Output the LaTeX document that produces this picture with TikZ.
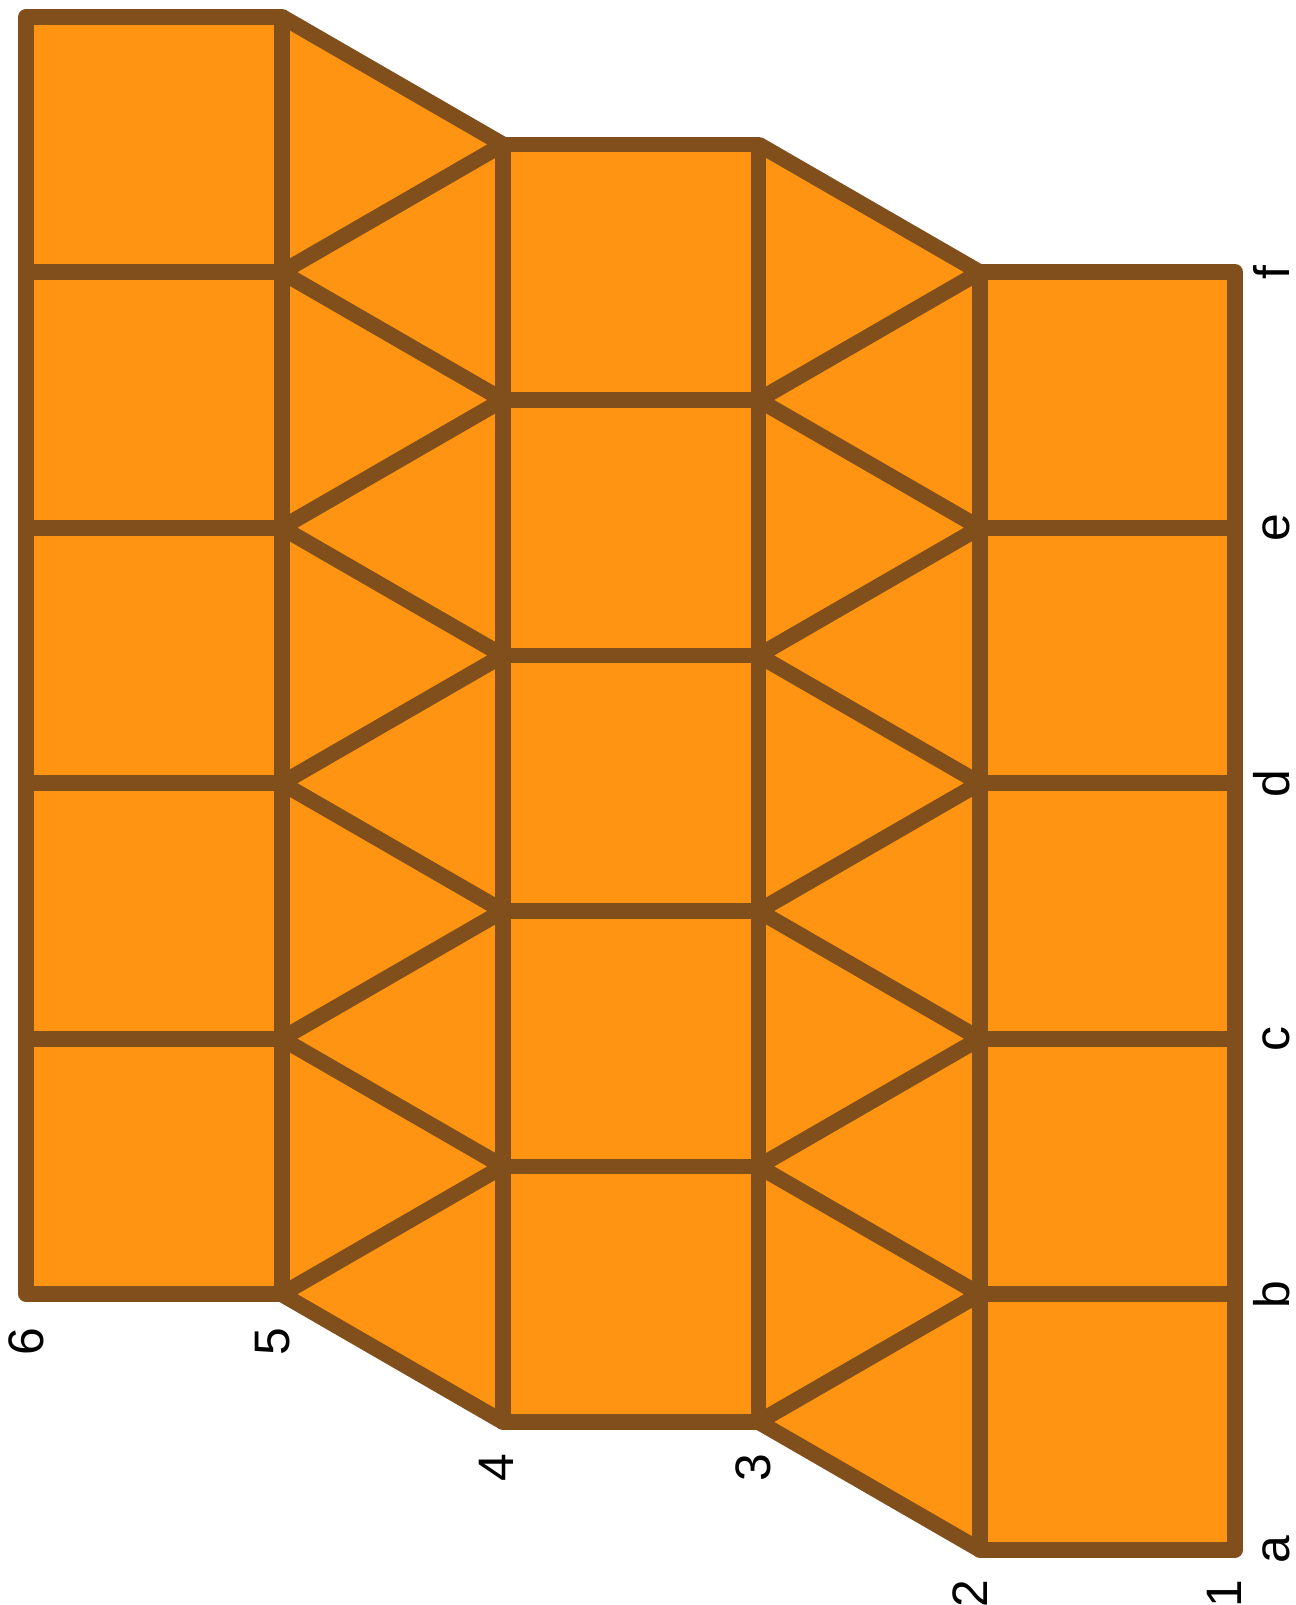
\documentclass[tikz,border=0pt]{standalone}
\usepackage{fontspec}
\setmainfont{Liberation Sans}
\definecolor{netfill}{RGB}{254,148,17}
\definecolor{netline}{RGB}{128,79,27}

\begin{document}
\begin{tikzpicture}[x=2cm, y=2cm, line width=3.5pt, line join=round,
    every node/.style={font=\fontsize{11.1}{13}\selectfont, inner sep=0pt, rotate=90}]
  % Define styles
  \tikzstyle{edge} = [draw=netline]
  \tikzstyle{rowlabel} = [anchor=east]
  \tikzstyle{collabel} = [anchor=base]
  \pgfmathsetmacro{\h}{sqrt(3)/2}

  \useasboundingbox (-0.1025,-0.2164) rectangle (4.966,6.0653);

  % Fill
  \fill[netfill] (0,1) -- (1,1) -- (1+\h,0.5) -- (2+\h,0.5) -- (2+2*\h,0) -- (3+2*\h,0)
    -- (3+2*\h,5) -- (2+2*\h,5) -- (2+\h,5.5) -- (1+\h,5.5) -- (1,6) -- (0,6) -- cycle;

  % Squares
  \foreach \i in {0,...,4} {
    \draw[edge] (0,1+\i) rectangle (1,2+\i);
    \draw[edge] (1+\h,0.5+\i) rectangle (2+\h,1.5+\i);
    \draw[edge] (2+2*\h,\i) rectangle (3+2*\h,1+\i);
  }

  % Triangles
  \draw[edge] (1+\h,0.5) \foreach \i in {1,...,5} {-- (1,\i) -- (1+\h,\i+0.5)} -- (1,6);
  \draw[edge] (2+2*\h,0) \foreach \i in {0,...,4} {-- (2+\h,\i+0.5) -- (2+2*\h,\i+1)} -- (2+\h,5.5);

  % Labels
  \foreach \x/\y/\t in {4.688/-0.085/1, 3.694/-0.085/2, 2.845/0.405/3, 1.842/0.405/4, 0.966/0.9/5, 0.0/0.9/6}
    \node[rowlabel] (n\t) at (\x,\y) {\t};
  \foreach \t [count=\k from 0] in {a,b,c,d,e,f}
    \node[collabel] (l\t) at (4.946,\k) {\t};
\end{tikzpicture}
\end{document}
